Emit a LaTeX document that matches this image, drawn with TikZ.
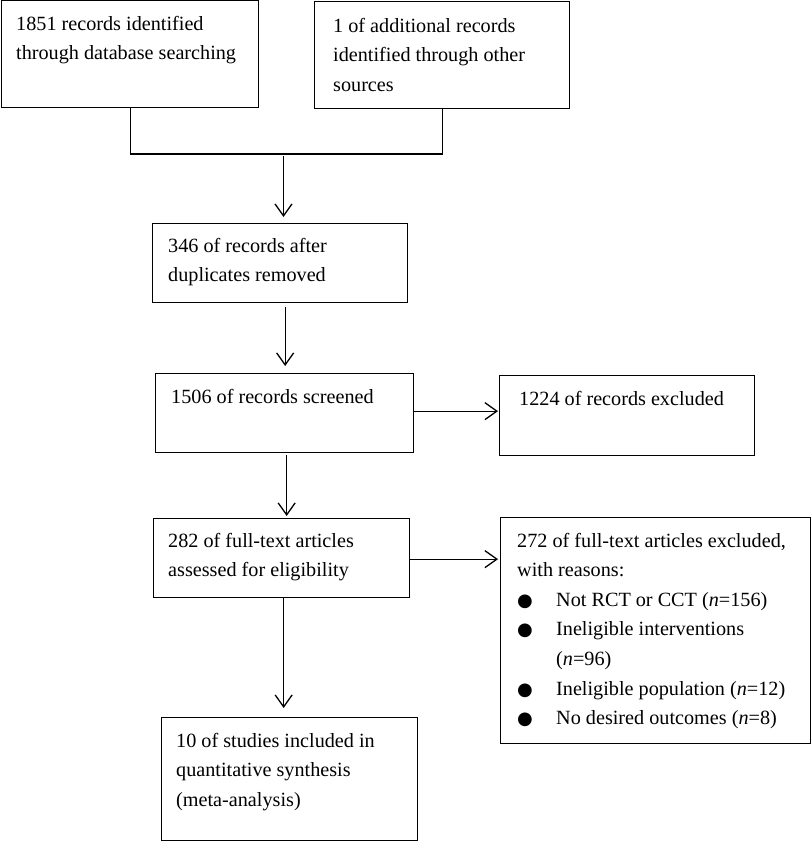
\documentclass[tikz,border=0pt]{standalone}
\usepackage{fontspec}
\setmainfont{Liberation Serif}
\newfontfamily\dejavu{DejaVu Sans}
\usetikzlibrary{arrows.meta}
\newcommand{\bul}{\makebox[39pt][l]{\dejavu\fontsize{18}{18}\selectfont ●}}
\begin{document}
\begin{tikzpicture}[x=1pt,y=-1pt,
  box/.style={draw, line width=1.3pt, inner sep=0pt, anchor=north west},
  txt/.style={anchor=base west, inner sep=0pt, align=left, font=\fontsize{20.2}{29.6}\selectfont},
  arr/.style={-{Straight Barb[length=12pt,width=17pt,line width=1.3pt]}, line width=1.3pt},
  conn/.style={line width=1.1pt}]
\fill[white] (0,0) rectangle (811,841);
\useasboundingbox (0,0) rectangle (811,841);
% boxes
\node[box, minimum width=257pt, minimum height=107pt] (b1) at (1,0) {};
\node[box, minimum width=255pt, minimum height=107pt] (b2) at (314,1) {};
\node[box, minimum width=255pt, minimum height=79pt] (b3) at (152,223) {};
\node[box, minimum width=258pt, minimum height=79pt] (b4) at (155,373) {};
\node[box, minimum width=255pt, minimum height=80pt] (b5) at (499,375) {};
\node[box, minimum width=256pt, minimum height=79pt] (b6) at (153,518) {};
\node[box, minimum width=310pt, minimum height=226pt] (b7) at (500,517) {};
\node[box, minimum width=256pt, minimum height=123pt] (b8) at (161,717) {};
% texts (anchor = baseline of the last line)
\node[txt] (t1) at (16,59.6) {1851 records identified\\through database searching};
\node[txt] (t2) at (333,91.2) {1 of additional records\\identified through other\\sources};
\node[txt] (t3) at (168,281.6) {346 of records after\\duplicates removed};
\node[txt] (t4) at (171,403) {1506 of records screened};
\node[txt] (t5) at (519,405) {1224 of records excluded};
\node[txt] (t6) at (168,576.6) {282 of full-text articles\\assessed for eligibility};
\node[txt] (t7) at (517,724.6) {272 of full-text articles excluded,\\with reasons:\\\bul Not RCT or CCT (\textit{n}=156)\\\bul Ineligible interventions\\\hspace*{39pt}(\textit{n}=96)\\\bul Ineligible population (\textit{n}=12)\\\bul No desired outcomes (\textit{n}=8)};
\node[txt] (t8) at (176,806.2) {10 of studies included in\\quantitative synthesis\\(meta-analysis)};
% connectors
\coordinate (j) at (283.5,154);
\draw[conn] (b1.south) |- (j) -| (b2.south);
\draw[arr, shorten <=2pt, shorten >=6pt] (j) -- (j |- b3.north);
\draw[arr, shorten <=4pt, shorten >=7pt] ([xshift=5pt]b3.south) -- ([xshift=5pt]b3.south |- b4.north);
\draw[arr, shorten >=1pt] ([yshift=2pt]b4.east) -- ([yshift=2pt]b4.east -| b5.west);
\draw[arr, shorten <=2pt, shorten >=2pt] ([xshift=2pt]b4.south) -- ([xshift=2pt]b4.south |- b6.north);
\draw[arr, shorten >=2pt] ([yshift=-1pt]b6.east) -- ([yshift=-1pt]b6.east -| b7.west);
\draw[arr, shorten >=9pt] ([xshift=2pt]b6.south) -- ([xshift=2pt]b6.south |- b8.north);
\end{tikzpicture}
\end{document}
